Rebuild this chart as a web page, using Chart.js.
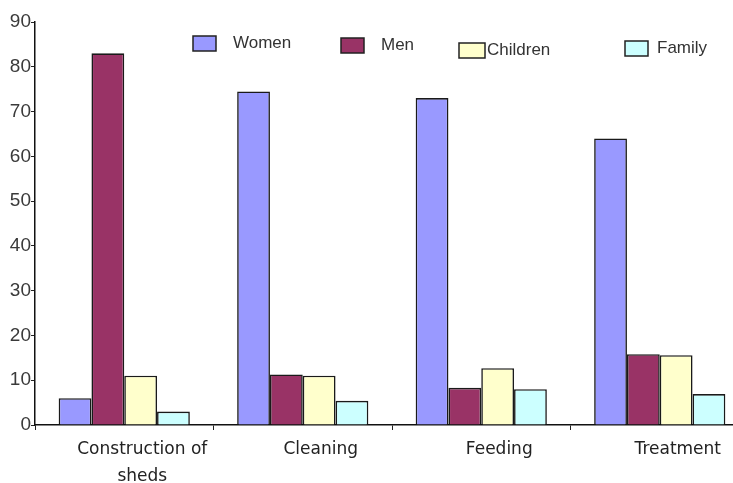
<!DOCTYPE html>
<html>
<head>
<meta charset="utf-8">
<script src="https://cdn.jsdelivr.net/npm/chart.js@4.4.1/dist/chart.umd.min.js"></script>
<style>
    html, body { margin: 0; padding: 0; background: #fff; overflow: hidden; }
    #wrap { width: 733px; height: 483px; overflow: hidden; }
</style>
</head>
<body>
<div id="wrap"><canvas id="chart" width="760" height="483"></canvas></div>
<script>
const categories = [['Construction of', 'sheds'], 'Cleaning', 'Feeding', 'Treatment'];
const women = [6, 74.5, 73, 64];
const men = [83, 11.3, 8.3, 15.8];
const children = [11, 11, 12.7, 15.6];
const family = [3, 5.4, 8, 6.9];
const yTicks = [0, 10, 20, 30, 40, 50, 60, 70, 80, 90];

// legend spots inside the plot (box left x, box centre y)
const legendSpots = [[193, 43], [341, 45], [459, 50], [625, 48]];

const legendInPlot = {
    id: 'legendInPlot',
    afterDraw(chart) {
        const ctx = chart.ctx;
        ctx.save();
        ctx.font = '17px "Liberation Sans", Arial, sans-serif';
        ctx.textBaseline = 'middle';
        chart.data.datasets.forEach((ds, i) => {
            const [x, y] = legendSpots[i];
            const w = ds.label === 'Children' ? 26 : 23;
            ctx.fillStyle = ds.backgroundColor;
            ctx.fillRect(x, y - 7, w, 15);
            ctx.strokeStyle = '#222';
            ctx.lineWidth = 1.5;
            ctx.strokeRect(x, y - 7, w, 15);
            ctx.fillStyle = '#333';
            const gap = ds.label === 'Children' ? 2 : (ds.label === 'Family' ? 9 : 17);
            ctx.fillText(ds.label, x + w + gap, y);
        });
        ctx.restore();
    }
};

function bars(label, data, color) {
    return {
        label: label,
        data: data,
        backgroundColor: color,
        borderColor: '#1a1a1a',
        borderWidth: 1.6,
        borderSkipped: 'bottom'
    };
}

new Chart(document.getElementById('chart'), {
    type: 'bar',
    data: {
        labels: categories,
        datasets: [
            bars('Women', women, '#9999ff'),
            bars('Men', men, '#993366'),
            bars('Children', children, '#ffffcc'),
            bars('Family', family, '#ccffff')
        ]
    },
    options: {
        responsive: false,
        animation: false,
        devicePixelRatio: 1,
        layout: { padding: { top: 22, right: 11, left: 0, bottom: 0 } },
        datasets: {
            bar: { categoryPercentage: 0.735, barPercentage: 1 }
        },
        plugins: {
            legend: { display: false },
            tooltip: { enabled: false }
        },
        scales: {
            x: {
                grid: {
                    display: true,
                    drawOnChartArea: false,
                    offset: true,
                    tickLength: 5,
                    color: '#222'
                },
                border: { color: '#111', width: 1.5 },
                ticks: {
                    color: '#222',
                    font: { family: '"DejaVu Sans", sans-serif', size: 17, lineHeight: 1.6 },
                    padding: 6,
                    labelOffset: 18,
                    maxRotation: 0,
                    autoSkip: false
                },
                afterFit(scale) { scale.height = 58; }
            },
            y: {
                min: 0,
                max: 90,
                afterBuildTicks(scale) {
                    scale.ticks = yTicks.map(v => ({ value: v }));
                },
                grid: {
                    display: true,
                    drawOnChartArea: false,
                    tickLength: 4,
                    color: '#222'
                },
                border: { color: '#111', width: 1.5 },
                ticks: {
                    color: '#3a3a3a',
                    autoSkip: false,
                    font: { family: '"Liberation Sans Narrow", "Liberation Sans", sans-serif', size: 19 },
                    padding: 0
                },
                afterFit(scale) { scale.width = 35; }
            }
        }
    },
    plugins: [legendInPlot]
});
</script>
</body>
</html>
